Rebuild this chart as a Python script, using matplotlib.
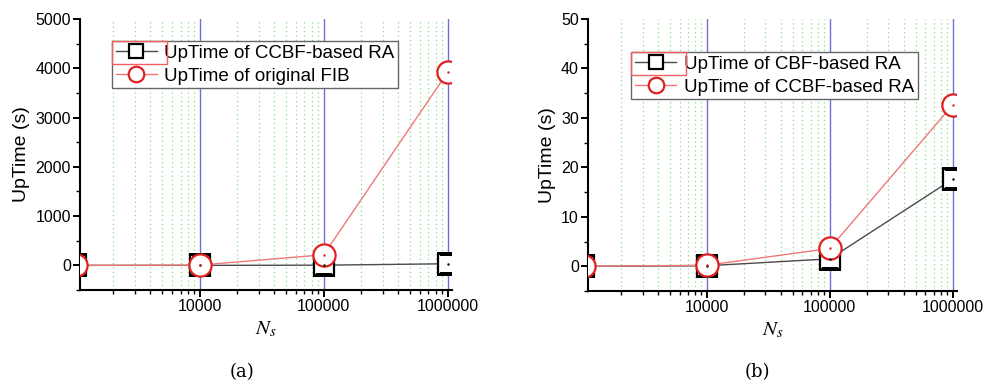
import numpy as np
import matplotlib
matplotlib.use("Agg")
import matplotlib.pyplot as plt
from matplotlib.patches import Rectangle
from matplotlib.path import Path
from matplotlib.ticker import FixedLocator, LogLocator, NullFormatter, AutoMinorLocator, FuncFormatter

# data
ns = [1000, 10000, 100000, 1000000]
a_ccbf = [0, 0.3, 3.7, 32.6]
a_fib = [0, 5, 215, 3920]
b_cbf = [0, 0.1, 1.5, 17.6]
b_ccbf = [0, 0.2, 3.6, 32.6]

labels_a = ['UpTime of CCBF-based RA', 'UpTime of original FIB']
labels_b = ['UpTime of CBF-based RA', 'UpTime of CCBF-based RA']

plt.rcParams['font.family'] = ['Liberation Sans', 'DejaVu Sans']
plt.rcParams['mathtext.fontset'] = 'stix'

fig = plt.figure(figsize=(9.83, 3.85), dpi=100)
ax_a = fig.add_axes([80/983, 1-290/385, 372/983, 271/385])
ax_b = fig.add_axes([588/983, 1-291/385, 369/983, 272/385])

BLACK_LINE = '#4a4a4a'
RED_LINE = '#f07878'


def style_axis(ax, ylim, ystep):
    ax.set_xscale('log')
    ax.set_xlim(1080, 1.085e6)
    ax.set_ylim(*ylim)
    ax.xaxis.set_major_locator(FixedLocator([1e4, 1e5, 1e6]))
    ax.xaxis.set_major_formatter(FuncFormatter(lambda v, p: f'{int(round(v))}'))
    ax.xaxis.set_minor_locator(LogLocator(base=10, subs=np.arange(2, 10)))
    ax.xaxis.set_minor_formatter(NullFormatter())
    ax.yaxis.set_major_locator(FixedLocator(np.arange(0, ylim[1] + 1, ystep)))
    ax.yaxis.set_minor_locator(AutoMinorLocator(2))
    # origin style grid
    ax.grid(True, which='minor', axis='x', color='#80e080', linestyle=(0, (1, 2.5)), linewidth=0.9)
    ax.grid(True, which='major', axis='x', color='#7070d0', linestyle='-', linewidth=1.0)
    ax.set_axisbelow(True)
    for s in ['top', 'right']:
        ax.spines[s].set_visible(False)
    for s in ['left', 'bottom']:
        ax.spines[s].set_linewidth(1.5)
    ax.tick_params(which='major', direction='out', length=5, width=1.4, labelsize=11.5, pad=1.5)
    ax.tick_params(which='minor', direction='out', length=3, width=1.0)
    ax.set_ylabel('UpTime (s)', fontsize=14)
    ax.set_xlabel('$N_s$', fontsize=15)


def draw_series(ax, y, line_color, edge, marker, ms, label):
    ln, = ax.plot(ns, y, color=line_color, linewidth=1.0, marker=marker, markersize=ms,
                  markerfacecolor='white', markeredgecolor=edge, markeredgewidth=1.6,
                  label=label, zorder=3)
    # a real path so that the markers get cut at the axes edge
    ln.set_clip_path(Path.unit_rectangle(), ax.transAxes)
    dots, = ax.plot(ns, y, linestyle='none', marker='.', markersize=1.5,
                    color=edge, zorder=4)
    dots.set_clip_path(Path.unit_rectangle(), ax.transAxes)


style_axis(ax_a, (-500, 5000), 1000)
draw_series(ax_a, a_ccbf, BLACK_LINE, 'black', 's', 14, labels_a[0])
draw_series(ax_a, a_fib, RED_LINE, '#e02020', 'o', 16, labels_a[1])

style_axis(ax_b, (-5, 50), 10)
draw_series(ax_b, b_cbf, BLACK_LINE, 'black', 's', 14, labels_b[0])
draw_series(ax_b, b_ccbf, RED_LINE, '#e02020', 'o', 16, labels_b[1])

legends = []
for ax, anchor in [(ax_a, (0.086, 0.919)), (ax_b, (0.117, 0.879))]:
    leg = ax.legend(loc='upper left', bbox_to_anchor=anchor, borderaxespad=0,
                    fontsize=13.5, fancybox=False, framealpha=1, edgecolor='#666666',
                    handlelength=2.2, handletextpad=0.4, borderpad=0.2,
                    labelspacing=0.3, markerscale=0.7)
    leg.get_frame().set_linewidth(1.0)
    legends.append(leg)

fig.text(242/983, 0.02, '(a)', ha='center', fontsize=13, family='serif')
fig.text(757/983, 0.02, '(b)', ha='center', fontsize=13, family='serif')

# red selection box around the first legend handle (as in the original)
fig.canvas.draw()
renderer = fig.canvas.get_renderer()
W, H = fig.bbox.width, fig.bbox.height
for leg in legends:
    lb = leg.get_window_extent(renderer)
    hb = leg.get_lines()[0].get_window_extent(renderer)
    x0, x1 = lb.x0, hb.x1 + 3
    y1 = lb.y1
    y0 = y1 - 23
    fig.add_artist(Rectangle((x0 / W, y0 / H), (x1 - x0) / W, (y1 - y0) / H,
                             transform=fig.transFigure, fill=False,
                             edgecolor='#f06060', linewidth=1.0, zorder=10))

fig.savefig('out.png', dpi=100)
